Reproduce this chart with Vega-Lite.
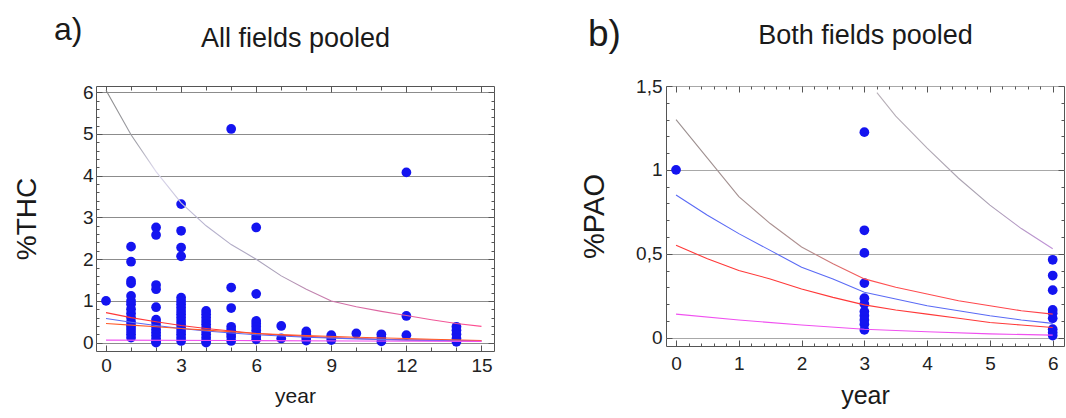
{
  "$schema": "https://vega.github.io/schema/vega-lite/v6.json",
  "background": "white",
  "padding": {"left": 12, "top": 13, "right": 0, "bottom": 0},
  "spacing": 85,
  "config": {
    "font": "Liberation Sans",
    "view": {"stroke": "#555555", "strokeWidth": 1},
    "title": {"fontWeight": "normal", "color": "#1a1a1a", "font": "Liberation Sans"},
    "axis": {"labelFont": "Liberation Sans", "titleFont": "Liberation Sans", "titleFontWeight": "normal", "labelColor": "#222222", "titleColor": "#1a1a1a", "domain": false, "tickColor": "#555555", "labelFontSize": 19}
  },
  "datasets": {
    "ptsA": [
      {"year":0,"v":1.0},
      {"year":1,"v":2.30},{"year":1,"v":1.94},{"year":1,"v":1.48},{"year":1,"v":1.42},{"year":1,"v":1.12},{"year":1,"v":1.0},{"year":1,"v":0.92},{"year":1,"v":0.8},{"year":1,"v":0.7},{"year":1,"v":0.6},{"year":1,"v":0.5},{"year":1,"v":0.42},{"year":1,"v":0.35},{"year":1,"v":0.28},{"year":1,"v":0.2},{"year":1,"v":0.12},
      {"year":2,"v":2.76},{"year":2,"v":2.58},{"year":2,"v":1.38},{"year":2,"v":1.28},{"year":2,"v":0.85},{"year":2,"v":0.55},{"year":2,"v":0.48},{"year":2,"v":0.4},{"year":2,"v":0.32},{"year":2,"v":0.25},{"year":2,"v":0.18},{"year":2,"v":0.1},{"year":2,"v":0.03},{"year":2,"v":0.0},
      {"year":3,"v":3.32},{"year":3,"v":2.68},{"year":3,"v":2.28},{"year":3,"v":2.07},{"year":3,"v":1.08},{"year":3,"v":1.0},{"year":3,"v":0.92},{"year":3,"v":0.84},{"year":3,"v":0.76},{"year":3,"v":0.68},{"year":3,"v":0.6},{"year":3,"v":0.52},{"year":3,"v":0.44},{"year":3,"v":0.36},{"year":3,"v":0.28},{"year":3,"v":0.2},{"year":3,"v":0.12},{"year":3,"v":0.04},
      {"year":4,"v":0.76},{"year":4,"v":0.68},{"year":4,"v":0.6},{"year":4,"v":0.52},{"year":4,"v":0.44},{"year":4,"v":0.36},{"year":4,"v":0.28},{"year":4,"v":0.2},{"year":4,"v":0.12},{"year":4,"v":0.04},{"year":4,"v":0.0},
      {"year":5,"v":5.12},{"year":5,"v":1.32},{"year":5,"v":0.83},{"year":5,"v":0.38},{"year":5,"v":0.3},{"year":5,"v":0.22},{"year":5,"v":0.14},{"year":5,"v":0.04},
      {"year":6,"v":2.76},{"year":6,"v":1.17},{"year":6,"v":0.52},{"year":6,"v":0.45},{"year":6,"v":0.38},{"year":6,"v":0.3},{"year":6,"v":0.22},{"year":6,"v":0.15},{"year":6,"v":0.08},
      {"year":7,"v":0.4},{"year":7,"v":0.1},
      {"year":8,"v":0.27},{"year":8,"v":0.2},{"year":8,"v":0.12},{"year":8,"v":0.05},
      {"year":9,"v":0.18},{"year":9,"v":0.12},{"year":9,"v":0.06},
      {"year":10,"v":0.22},
      {"year":11,"v":0.2},{"year":11,"v":0.12},{"year":11,"v":0.03},
      {"year":12,"v":4.08},{"year":12,"v":0.64},{"year":12,"v":0.18},
      {"year":14,"v":0.38},{"year":14,"v":0.3},{"year":14,"v":0.2},{"year":14,"v":0.1},{"year":14,"v":0.02}
    ],
    "linesA": [
      {"s":"r","year":0,"v":0.72},{"s":"r","year":1,"v":0.6},{"s":"r","year":2,"v":0.5},{"s":"r","year":3,"v":0.41},{"s":"r","year":4,"v":0.34},{"s":"r","year":5,"v":0.28},{"s":"r","year":6,"v":0.22},{"s":"r","year":7,"v":0.18},{"s":"r","year":8,"v":0.15},{"s":"r","year":9,"v":0.12},{"s":"r","year":10,"v":0.1},{"s":"r","year":11,"v":0.08},{"s":"r","year":12,"v":0.07},{"s":"r","year":13,"v":0.06},{"s":"r","year":14,"v":0.05},{"s":"r","year":15,"v":0.04},
      {"s":"b","year":0,"v":0.58},{"s":"b","year":1,"v":0.49},{"s":"b","year":2,"v":0.41},{"s":"b","year":3,"v":0.34},{"s":"b","year":4,"v":0.28},{"s":"b","year":5,"v":0.23},{"s":"b","year":6,"v":0.19},{"s":"b","year":8,"v":0.13},{"s":"b","year":10,"v":0.09},{"s":"b","year":12,"v":0.06},{"s":"b","year":15,"v":0.04},
      {"s":"o","year":0,"v":0.46},{"s":"o","year":1,"v":0.42},{"s":"o","year":2,"v":0.38},{"s":"o","year":3,"v":0.34},{"s":"o","year":4,"v":0.3},{"s":"o","year":5,"v":0.26},{"s":"o","year":6,"v":0.22},{"s":"o","year":8,"v":0.17},{"s":"o","year":10,"v":0.13},{"s":"o","year":12,"v":0.1},{"s":"o","year":13,"v":0.08},{"s":"o","year":15,"v":0.05},
      {"s":"m","year":0,"v":0.06},{"s":"m","year":5,"v":0.05},{"s":"m","year":10,"v":0.04},{"s":"m","year":15,"v":0.03}
    ],
    "curveA": [
      {"year":0,"v":6.05},{"year":1,"v":4.98},{"year":2,"v":4.1},{"year":3,"v":3.35},{"year":4,"v":2.8},{"year":5,"v":2.35},{"year":6,"v":2.0},{"year":7,"v":1.6},{"year":8,"v":1.28},{"year":9,"v":1.0},{"year":10,"v":0.86},{"year":11,"v":0.75},{"year":12,"v":0.65},{"year":13,"v":0.55},{"year":14,"v":0.46},{"year":15,"v":0.39}
    ],
    "ptsB": [
      {"year":0,"v":1.0},
      {"year":3,"v":1.225},{"year":3,"v":0.64},{"year":3,"v":0.505},{"year":3,"v":0.325},{"year":3,"v":0.235},{"year":3,"v":0.2},{"year":3,"v":0.155},{"year":3,"v":0.13},{"year":3,"v":0.105},{"year":3,"v":0.08},{"year":3,"v":0.046},
      {"year":6,"v":0.464},{"year":6,"v":0.37},{"year":6,"v":0.283},{"year":6,"v":0.165},{"year":6,"v":0.145},{"year":6,"v":0.115},{"year":6,"v":0.05},{"year":6,"v":0.03},{"year":6,"v":0.012}
    ],
    "linesB": [
      {"s":"b","year":0,"v":0.85},{"s":"b","year":0.5,"v":0.73},{"s":"b","year":1,"v":0.62},{"s":"b","year":1.5,"v":0.52},{"s":"b","year":2,"v":0.42},{"s":"b","year":2.5,"v":0.35},{"s":"b","year":3,"v":0.27},{"s":"b","year":3.5,"v":0.23},{"s":"b","year":4,"v":0.19},{"s":"b","year":4.5,"v":0.16},{"s":"b","year":5,"v":0.13},{"s":"b","year":5.5,"v":0.105},{"s":"b","year":6,"v":0.085},
      {"s":"r","year":0,"v":0.55},{"s":"r","year":0.5,"v":0.47},{"s":"r","year":1,"v":0.4},{"s":"r","year":1.5,"v":0.35},{"s":"r","year":2,"v":0.29},{"s":"r","year":2.5,"v":0.24},{"s":"r","year":3,"v":0.195},{"s":"r","year":3.5,"v":0.165},{"s":"r","year":4,"v":0.14},{"s":"r","year":4.5,"v":0.115},{"s":"r","year":5,"v":0.09},{"s":"r","year":5.5,"v":0.075},{"s":"r","year":6,"v":0.06},
      {"s":"m","year":0,"v":0.14},{"s":"m","year":1,"v":0.105},{"s":"m","year":2,"v":0.075},{"s":"m","year":3,"v":0.05},{"s":"m","year":4,"v":0.035},{"s":"m","year":5,"v":0.022},{"s":"m","year":6,"v":0.015}
    ],
    "curveB1": [
      {"year":0,"v":1.3},{"year":0.5,"v":1.07},{"year":1,"v":0.84},{"year":1.5,"v":0.68},{"year":2,"v":0.54},{"year":2.5,"v":0.44},{"year":3,"v":0.35},{"year":3.5,"v":0.3},{"year":4,"v":0.26},{"year":4.5,"v":0.22},{"year":5,"v":0.19},{"year":5.5,"v":0.16},{"year":6,"v":0.14}
    ],
    "curveB2": [
      {"year":3.2,"v":1.46},{"year":3.5,"v":1.32},{"year":4,"v":1.13},{"year":4.5,"v":0.95},{"year":5,"v":0.79},{"year":5.5,"v":0.65},{"year":6,"v":0.53}
    ]
  },
  "hconcat": [
    {
      "width": 398,
      "height": 265,
      "title": {"text": "a)", "anchor": "start", "frame": "group", "dx": -42, "fontSize": 32, "baseline": "alphabetic", "offset": -47},
      "layer": [
        {
          "data": {"name": "ptsA"},
          "mark": {"type": "point", "filled": true, "opacity": 1, "size": 95, "color": "#1414f0"},
          "encoding": {
            "x": {"field": "year", "type": "quantitative", "scale": {"domain": [-0.4, 15.5], "nice": false, "zero": false},
              "axis": {"orient": "bottom", "values": [0,1,2,3,4,5,6,7,8,9,10,11,12,13,14,15],
                "labelExpr": "datum.value % 3 == 0 ? format(datum.value, 'd') : ''",
                "tickSize": {"condition": {"test": "datum.value % 3 == 0", "value": -6}, "value": -4},
                "labelPadding": 11, "grid": false, "title": "year", "titleFontSize": 21, "titlePadding": 10}},
            "y": {"field": "v", "type": "quantitative", "scale": {"domain": [-0.2, 6.15], "nice": false, "zero": false},
              "axis": {"orient": "left", "values": [0,0.2,0.4,0.6,0.8,1,1.2,1.4,1.6,1.8,2,2.2,2.4,2.6,2.8,3,3.2,3.4,3.6,3.8,4,4.2,4.4,4.6,4.8,5,5.2,5.4,5.6,5.8,6],
                "labelExpr": "abs(datum.value - round(datum.value)) < 0.01 ? format(datum.value, '.0f') : ''",
                "tickSize": {"condition": {"test": "abs(datum.value - round(datum.value)) < 0.01", "value": -6}, "value": -3},
                "grid": true, "gridColor": "#8c8c8c", "gridWidth": 1,
                "gridOpacity": {"condition": {"test": "abs(datum.value - round(datum.value)) < 0.01", "value": 1}, "value": 0},
                "labelPadding": 9, "title": "%THC", "titleFontSize": 28, "titlePadding": 41}}
          }
        },
        {
          "data": {"name": "linesA"},
          "mark": {"type": "line", "strokeWidth": 1.1},
          "encoding": {
            "x": {"field": "year", "type": "quantitative", "scale": {"domain": [-0.4, 15.5], "nice": false, "zero": false},
              "axis": {"orient": "top", "values": [0,1,2,3,4,5,6,7,8,9,10,11,12,13,14,15], "labels": false, "grid": false,
                "tickSize": {"condition": {"test": "datum.value % 3 == 0", "value": -6}, "value": -4},
                "title": "All fields pooled", "titleFontSize": 27, "titlePadding": 33}},
            "y": {"field": "v", "type": "quantitative", "scale": {"domain": [-0.2, 6.15], "nice": false, "zero": false},
              "axis": {"orient": "right", "values": [0,0.2,0.4,0.6,0.8,1,1.2,1.4,1.6,1.8,2,2.2,2.4,2.6,2.8,3,3.2,3.4,3.6,3.8,4,4.2,4.4,4.6,4.8,5,5.2,5.4,5.6,5.8,6],
                "labels": false, "grid": false, "title": null,
                "tickSize": {"condition": {"test": "abs(datum.value - round(datum.value)) < 0.01", "value": -6}, "value": -3}}},
            "color": {"field": "s", "type": "nominal", "scale": {"domain": ["r","b","o","m"], "range": ["#ff3838","#5a6af5","#ff5a28","#f050f0"]}, "legend": null}
          }
        },
        {
          "data": {"name": "curveA"},
          "mark": {"type": "line", "strokeWidth": 1.1,
            "color": {"gradient": "linear", "x1": 0, "y1": 0, "x2": 1, "y2": 0,
              "stops": [{"offset": 0, "color": "#8a8a8a"}, {"offset": 0.08, "color": "#a0a0a8"}, {"offset": 0.13, "color": "#dcd8ec"}, {"offset": 0.25, "color": "#b8b4d0"}, {"offset": 0.45, "color": "#a8a0b8"}, {"offset": 0.62, "color": "#d070a8"}, {"offset": 1, "color": "#ff4c90"}]}},
          "encoding": {
            "x": {"field": "year", "type": "quantitative", "axis": null},
            "y": {"field": "v", "type": "quantitative", "axis": null}
          }
        }
      ],
      "resolve": {"axis": {"x": "independent", "y": "independent"}}
    },
    {
      "width": 398,
      "height": 260,
      "title": {"text": "b)", "anchor": "start", "frame": "group", "dx": -78, "fontSize": 37, "baseline": "alphabetic", "offset": -61},
      "layer": [
        {
          "data": {"name": "ptsB"},
          "mark": {"type": "point", "filled": true, "opacity": 1, "size": 95, "color": "#1414f0"},
          "encoding": {
            "x": {"field": "year", "type": "quantitative", "scale": {"domain": [-0.16, 6.18], "nice": false, "zero": false},
              "axis": {"orient": "bottom", "values": [0,0.2,0.4,0.6,0.8,1,1.2,1.4,1.6,1.8,2,2.2,2.4,2.6,2.8,3,3.2,3.4,3.6,3.8,4,4.2,4.4,4.6,4.8,5,5.2,5.4,5.6,5.8,6],
                "labelExpr": "abs(datum.value - round(datum.value)) < 0.01 ? format(datum.value, '.0f') : ''",
                "tickSize": {"condition": {"test": "abs(datum.value - round(datum.value)) < 0.01", "value": -6}, "value": -3},
                "labelPadding": 14, "grid": false, "title": "year", "titleFontSize": 25, "titlePadding": 10}},
            "y": {"field": "v", "type": "quantitative", "scale": {"domain": [-0.05, 1.5], "nice": false, "zero": false},
              "axis": {"orient": "left", "values": [0,0.1,0.2,0.3,0.4,0.5,0.6,0.7,0.8,0.9,1,1.1,1.2,1.3,1.4,1.5],
                "labelExpr": "datum.value == 0 ? '0' : datum.value == 0.5 ? '0,5' : datum.value == 1 ? '1' : datum.value == 1.5 ? '1,5' : ''",
                "tickSize": {"condition": {"test": "abs(datum.value*2 - round(datum.value*2)) < 0.01", "value": -6}, "value": -3},
                "grid": true, "gridColor": "#a8a8a8", "gridWidth": 1,
                "gridOpacity": {"condition": {"test": "abs(datum.value*2 - round(datum.value*2)) < 0.01", "value": 1}, "value": 0},
                "labelPadding": 10, "title": "%PAO", "titleFontSize": 29, "titlePadding": 26}}
          }
        },
        {
          "data": {"name": "linesB"},
          "mark": {"type": "line", "strokeWidth": 1.1},
          "encoding": {
            "x": {"field": "year", "type": "quantitative", "scale": {"domain": [-0.16, 6.18], "nice": false, "zero": false},
              "axis": {"orient": "top", "values": [0,0.2,0.4,0.6,0.8,1,1.2,1.4,1.6,1.8,2,2.2,2.4,2.6,2.8,3,3.2,3.4,3.6,3.8,4,4.2,4.4,4.6,4.8,5,5.2,5.4,5.6,5.8,6], "labels": false, "grid": false,
                "tickSize": {"condition": {"test": "abs(datum.value - round(datum.value)) < 0.01", "value": -6}, "value": -3},
                "title": "Both fields pooled", "titleFontSize": 27, "titlePadding": 36}},
            "y": {"field": "v", "type": "quantitative", "scale": {"domain": [-0.05, 1.5], "nice": false, "zero": false},
              "axis": {"orient": "right", "values": [0,0.1,0.2,0.3,0.4,0.5,0.6,0.7,0.8,0.9,1,1.1,1.2,1.3,1.4,1.5],
                "labels": false, "grid": false, "title": null,
                "tickSize": {"condition": {"test": "abs(datum.value*2 - round(datum.value*2)) < 0.01", "value": -6}, "value": -3}}},
            "color": {"field": "s", "type": "nominal", "scale": {"domain": ["b","r","m"], "range": ["#5060f8","#ff4048","#f048f0"]}, "legend": null}
          }
        },
        {
          "data": {"name": "curveB1"},
          "mark": {"type": "line", "strokeWidth": 1.1,
            "color": {"gradient": "linear", "x1": 0, "y1": 0, "x2": 1, "y2": 0,
              "stops": [{"offset": 0, "color": "#9a9090"}, {"offset": 0.35, "color": "#b09090"}, {"offset": 0.5, "color": "#ff5050"}, {"offset": 1, "color": "#ff4048"}]}},
          "encoding": {
            "x": {"field": "year", "type": "quantitative", "axis": null},
            "y": {"field": "v", "type": "quantitative", "axis": null}
          }
        },
        {
          "data": {"name": "curveB2"},
          "mark": {"type": "line", "strokeWidth": 1.1,
            "color": {"gradient": "linear", "x1": 0, "y1": 0, "x2": 1, "y2": 0,
              "stops": [{"offset": 0, "color": "#b8b0b8"}, {"offset": 0.6, "color": "#a8a0b0"}, {"offset": 1, "color": "#c090d8"}]}},
          "encoding": {
            "x": {"field": "year", "type": "quantitative", "axis": null},
            "y": {"field": "v", "type": "quantitative", "axis": null}
          }
        }
      ],
      "resolve": {"axis": {"x": "independent", "y": "independent"}}
    }
  ]
}
